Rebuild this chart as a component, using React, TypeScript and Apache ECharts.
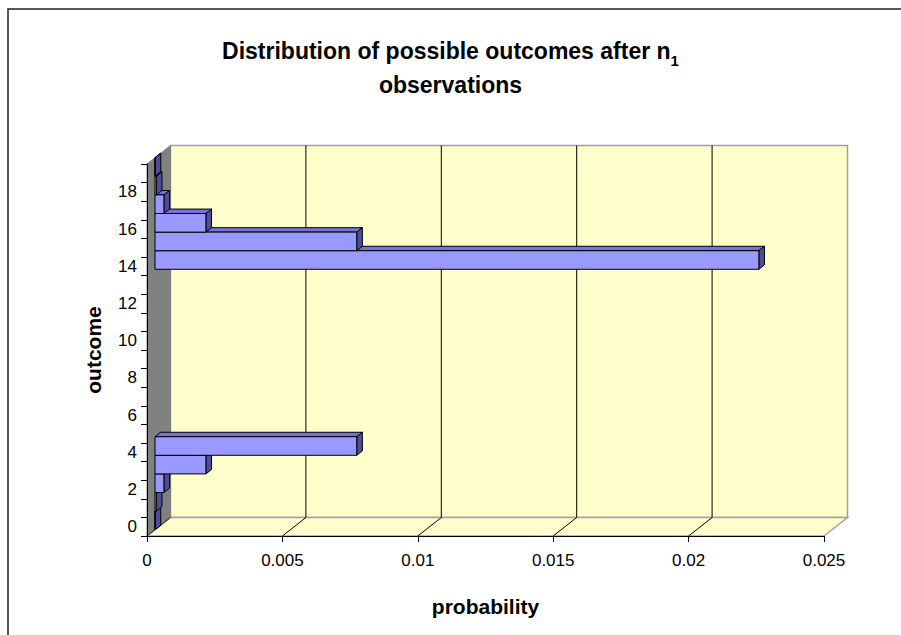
import React, { useEffect, useRef } from "react";
import * as echarts from "echarts";

const categories = ["0", "1", "2", "3", "4", "5", "6", "7", "8", "9", "10", "11", "12", "13", "14", "15", "16", "17", "18", "19"];
const probabilities = [0.000004, 0.00005, 0.00033, 0.00188, 0.00745, 0, 0, 0, 0, 0, 0, 0, 0, 0, 0.0223, 0.00745, 0.00188, 0.00033, 0.00005, 0.000004];
const xTicks = [0, 0.005, 0.01, 0.015, 0.02, 0.025];

const FONT = "'Liberation Sans', Arial, sans-serif";
const DX = 23.5;
const DY = -18.5;
const F1 = 0.34;
const F2 = 0.58;
const WALL = "#FFFFCC";

export default function App() {
  const ref = useRef<HTMLDivElement>(null);
  useEffect(() => {
    if (!ref.current) return;
    const chart = echarts.init(ref.current, null, { renderer: "svg" });
    const xMin = xTicks[0];
    const xMax = xTicks[xTicks.length - 1];

    const wallsRender = (params: any, api: any) => {
      const h = api.size([0, 1])[1];
      const pb = api.coord([xMin, 0]);
      const pt = api.coord([xMin, categories.length - 1]);
      const yb = pb[1] + h / 2;
      const yt = pt[1] - h / 2;
      const x0 = pb[0];
      const x1 = api.coord([xMax, 0])[0];
      const children: any[] = [];
      children.push({
        type: "polygon",
        shape: { points: [[x0 + DX, yb + DY], [x1 + DX, yb + DY], [x1 + DX, yt + DY], [x0 + DX, yt + DY]] },
        style: { fill: WALL, stroke: "#a0a0a0", lineWidth: 1.5 },
      });
      children.push({
        type: "polygon",
        shape: { points: [[x0, yb], [x1, yb], [x1 + DX, yb + DY], [x0 + DX, yb + DY]] },
        style: { fill: WALL, stroke: "#a0a0a0", lineWidth: 1.5 },
      });
      children.push({
        type: "polygon",
        shape: { points: [[x0, yb], [x0, yt], [x0 + DX, yt + DY], [x0 + DX, yb + DY]] },
        style: { fill: "#808080", stroke: "#808080", lineWidth: 1 },
      });
      children.push({
        type: "line",
        shape: { x1: x0, y1: yb, x2: x0 + DX, y2: yb + DY },
        style: { stroke: "#333", lineWidth: 1 },
      });
      xTicks.forEach((v, i) => {
        if (i === 0 || i === xTicks.length - 1) return;
        const xv = api.coord([v, 0])[0];
        children.push({
          type: "line",
          shape: { x1: xv + DX, y1: yb + DY, x2: xv + DX, y2: yt + DY },
          style: { stroke: "#000", lineWidth: 1 },
        });
        children.push({
          type: "line",
          shape: { x1: xv, y1: yb, x2: xv + DX, y2: yb + DY },
          style: { stroke: "#000", lineWidth: 1 },
        });
      });
      return { type: "group", children };
    };

    const barRender = (params: any, api: any) => {
      const v = api.value(0);
      const idx = api.value(1);
      if (!v) return null;
      const h = api.size([0, 1])[1];
      const c0 = api.coord([0, idx]);
      const c1 = api.coord([v, idx]);
      const xl = c0[0] + F1 * DX;
      const xr = c1[0] + F1 * DX;
      const yt = c0[1] - h / 2 + F1 * DY;
      const yb = c0[1] + h / 2 + F1 * DY;
      const ddx = (F2 - F1) * DX;
      const ddy = (F2 - F1) * DY;
      return {
        type: "group",
        children: [
          {
            type: "polygon",
            shape: { points: [[xl, yt], [xr, yt], [xr + ddx, yt + ddy], [xl + ddx, yt + ddy]] },
            style: { fill: "#7373D9", stroke: "#000", lineWidth: 1, lineJoin: "round" },
          },
          {
            type: "polygon",
            shape: { points: [[xr, yt], [xr + ddx, yt + ddy], [xr + ddx, yb + ddy], [xr, yb]] },
            style: { fill: "#4D4D99", stroke: "#000", lineWidth: 1, lineJoin: "round" },
          },
          {
            type: "rect",
            shape: { x: xl, y: yt, width: xr - xl, height: yb - yt },
            style: { fill: "#9999FF", stroke: "#000", lineWidth: 1 },
          },
        ],
      };
    };

    chart.setOption({
      animation: false,
      backgroundColor: "#fff",
      title: {
        text: "Distribution of possible outcomes after n{sub|1}\nobservations",
        left: "center",
        top: 29,
        textStyle: {
          fontFamily: FONT,
          fontSize: 23,
          fontWeight: "bold",
          color: "#000",
          lineHeight: 34,
          rich: {
            sub: { fontFamily: FONT, fontSize: 15, fontWeight: "bold", color: "#000", lineHeight: 22, verticalAlign: "bottom" },
          },
        },
      },
      graphic: [
        {
          type: "rect",
          shape: { x: 8, y: 9, width: 920, height: 660 },
          style: { fill: "none", stroke: "#222", lineWidth: 1.5 },
          silent: true,
        },
      ],
      grid: { left: 147, right: 77, top: 164, bottom: 99 },
      xAxis: {
        type: "value",
        min: xMin,
        max: xMax,
        interval: xTicks[1] - xTicks[0],
        z: 5,
        axisLine: { show: true, lineStyle: { color: "#000", width: 1 } },
        axisTick: { show: true, length: 6, lineStyle: { color: "#000" } },
        splitLine: { show: false },
        axisLabel: { fontFamily: FONT, fontSize: 17, color: "#000", margin: 16 },
        name: "probability",
        nameLocation: "middle",
        nameGap: 60,
        nameTextStyle: { fontFamily: FONT, fontSize: 21, fontWeight: "bold", color: "#000" },
      },
      yAxis: {
        type: "category",
        data: categories,
        z: 5,
        axisLine: { show: true, lineStyle: { color: "#000", width: 1 } },
        axisTick: { show: true, interval: 0, length: 6, lineStyle: { color: "#000" } },
        splitLine: { show: false },
        axisLabel: { interval: 1, fontFamily: FONT, fontSize: 17, color: "#000", margin: 10 },
        name: "outcome",
        nameLocation: "middle",
        nameGap: 43,
        nameRotate: 90,
        nameTextStyle: { fontFamily: FONT, fontSize: 21, fontWeight: "bold", color: "#000" },
      },
      series: [
        {
          type: "custom",
          name: "walls",
          data: [[xMin, 0]],
          encode: { x: 0, y: 1 },
          renderItem: wallsRender,
          clip: false,
          silent: true,
          z: 1,
        },
        {
          type: "custom",
          name: "probability",
          data: probabilities.map((v, i) => [v, i]),
          encode: { x: 0, y: 1 },
          renderItem: barRender,
          clip: false,
          z: 3,
        },
      ],
    });
    return () => chart.dispose();
  }, []);
  return <div ref={ref} style={{ position: "absolute", left: 0, top: 0, width: 901, height: 635 }} />;
}
